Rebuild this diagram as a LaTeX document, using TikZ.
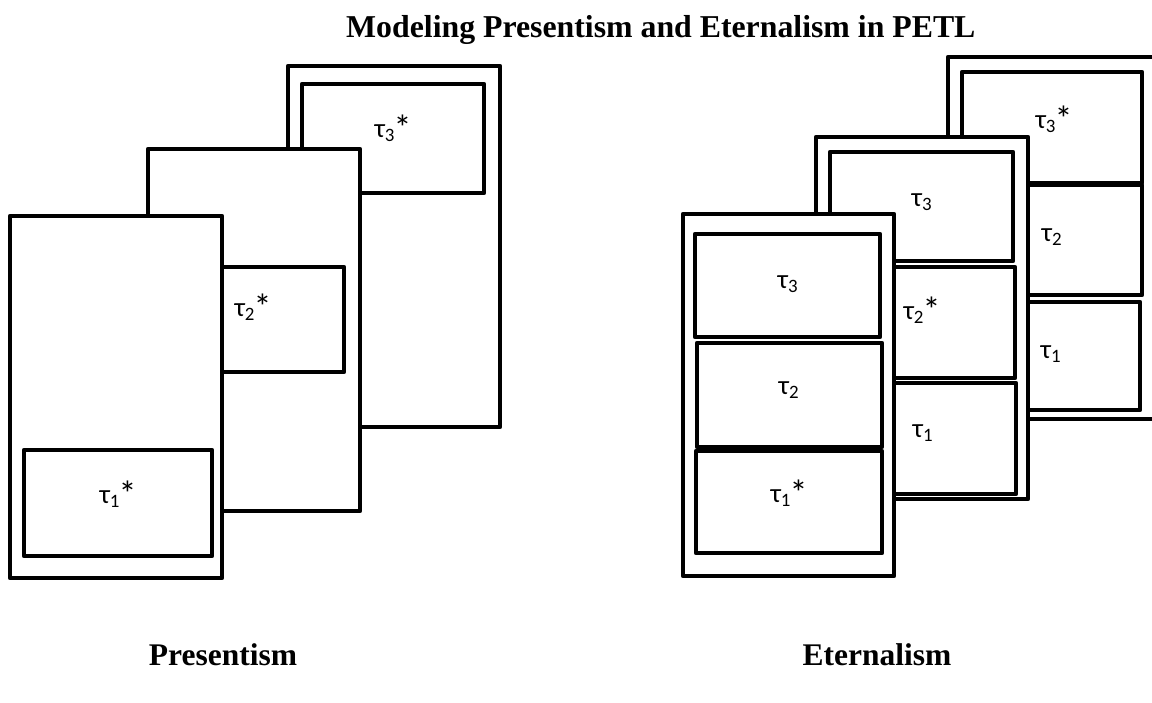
\documentclass[tikz,border=0pt]{standalone}
\usepackage{fontspec}
\setmainfont{Liberation Serif}
\newfontfamily\lblfont{Carlito}
\newcommand\pstar{\kern-1.5pt\raisebox{-3pt}{\fontsize{36}{36}\selectfont *}}
\begin{document}
\begin{tikzpicture}[x=1pt,y=-1pt,
  page/.style={draw=black, fill=white, line width=4.5pt, line join=round},
  cell/.style={draw=black, fill=white, line width=4.5pt, line join=round},
  lbl/.style={font=\lblfont\fontsize{27}{30}\selectfont, inner sep=0pt},
  ttl/.style={font=\bfseries\fontsize{31.8}{36}\selectfont, inner sep=0pt},
  capt/.style={font=\bfseries\fontsize{31.5}{36}\selectfont, inner sep=0pt}]
\useasboundingbox (0,0) rectangle (1152,702);
\clip (0,0) rectangle (1152,702);
\fill[white] (0,0) rectangle (1152,702);

\node[ttl, anchor=base west] (title) at (346,37) {Modeling Presentism and Eternalism in PETL};

% ---------- Presentism ----------
\draw[page] (288,66) rectangle (500,427);
\draw[cell] (302,84) rectangle (484,193);
\node[lbl] (p3) at (393,128) {τ\textsubscript{3}\pstar};

\draw[page] (148,149) rectangle (360,511);
\draw[cell] (162,267) rectangle (344,372);
\node[lbl] (p2) at (253,307) {τ\textsubscript{2}\pstar};

\draw[page] (10,216) rectangle (222,578);
\draw[cell] (24,450) rectangle (212,556);
\node[lbl] (p1) at (118,494) {τ\textsubscript{1}\pstar};

% ---------- Eternalism ----------
\draw[page] (948,57) rectangle (1160,419);
\draw[cell] (962,72) rectangle (1142,183);
\draw[cell] (962,185) rectangle (1142,295);
\draw[cell] (962,302) rectangle (1140,410);
\node[lbl] (e33) at (1054,119) {τ\textsubscript{3}\pstar};
\node[lbl] (e32) at (1052,237) {τ\textsubscript{2}};
\node[lbl] (e31) at (1051,354) {τ\textsubscript{1}};

\draw[page] (816,137) rectangle (1028,499);
\draw[cell] (830,152) rectangle (1013,261);
\draw[cell] (830,267) rectangle (1015,378);
\draw[cell] (830,383) rectangle (1016,494);
\node[lbl] (e23) at (922,202) {τ\textsubscript{3}};
\node[lbl] (e22) at (922,310) {τ\textsubscript{2}\pstar};
\node[lbl] (e21) at (923,433) {τ\textsubscript{1}};

\draw[page] (683,214) rectangle (894,576);
\draw[cell] (695,234) rectangle (880,337);
\draw[cell] (697,343) rectangle (882,447);
\draw[cell] (696,451) rectangle (882,553);
\node[lbl] (e13) at (788,284) {τ\textsubscript{3}};
\node[lbl] (e12) at (789,390) {τ\textsubscript{2}};
\node[lbl] (e11) at (789,493) {τ\textsubscript{1}\pstar};

\node[capt] (pres) at (223,655) {Presentism};
\node[capt] (eter) at (877,655) {Eternalism};
\end{tikzpicture}
\end{document}
